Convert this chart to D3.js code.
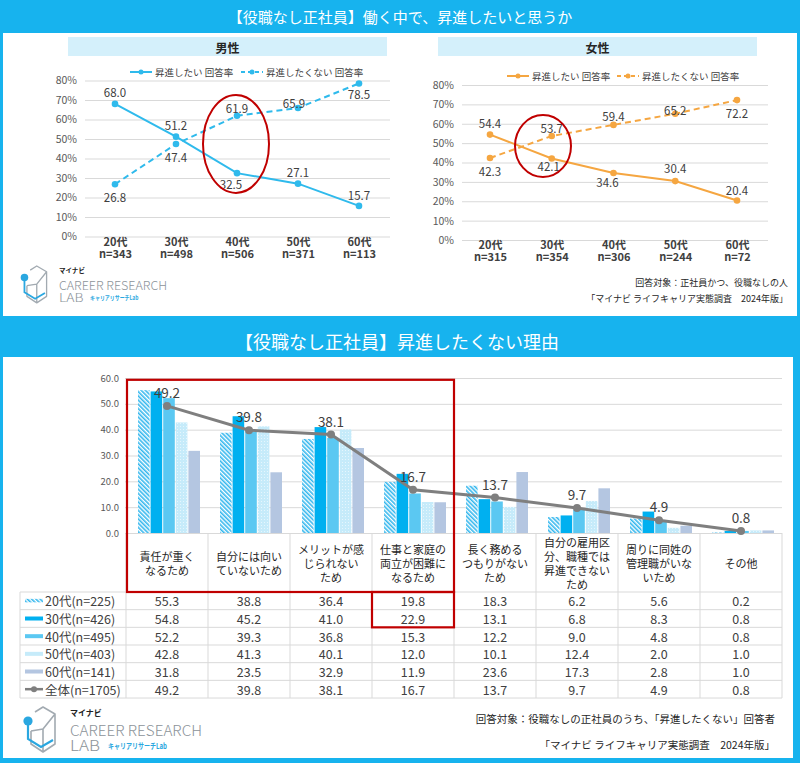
<!DOCTYPE html>
<html><head><meta charset="utf-8">
<script src="https://cdn.jsdelivr.net/npm/d3@7"></script>
<style>
body{margin:0;background:#fff}
svg{display:block}
text{font-family:"Noto Sans CJK JP","Noto Sans",sans-serif}
</style>
</head><body>
<svg id="c" width="800" height="763"></svg>
<script>
// ---------- DATA ----------
const ages = ["20代","30代","40代","50代","60代"];
const maleN = ["n=343","n=498","n=506","n=371","n=113"];
const femaleN = ["n=315","n=354","n=306","n=244","n=72"];
const seriesNames = ["昇進したい 回答率","昇進したくない 回答率"];
const maleWant = [68.0,51.2,32.5,27.1,15.7];
const maleNotWant = [26.8,47.4,61.9,65.9,78.5];
const femaleWant = [54.4,42.1,34.6,30.4,20.4];
const femaleNotWant = [42.3,53.7,59.4,65.2,72.2];
const lineTicks = [0,10,20,30,40,50,60,70,80];

const reasons = [
  ["責任が重く","なるため"],
  ["自分には向い","ていないため"],
  ["メリットが感","じられない","ため"],
  ["仕事と家庭の","両立が困難に","なるため"],
  ["長く務める","つもりがない","ため"],
  ["自分の雇用区","分、職種では","昇進できない","ため"],
  ["周りに同姓の","管理職がいな","いため"],
  ["その他"]
];
const groupLabels = ["20代(n=225)","30代(n=426)","40代(n=495)","50代(n=403)","60代(n=141)"];
const r20 = [55.3,38.8,36.4,19.8,18.3,6.2,5.6,0.2];
const r30 = [54.8,45.2,41.0,22.9,13.1,6.8,8.3,0.8];
const r40 = [52.2,39.3,36.8,15.3,12.2,9.0,4.8,0.8];
const r50 = [42.8,41.3,40.1,12.0,10.1,12.4,2.0,1.0];
const r60 = [31.8,23.5,32.9,11.9,23.6,17.3,2.8,1.0];
const totalLabel = "全体(n=1705)";
const total = [49.2,39.8,38.1,16.7,13.7,9.7,4.9,0.8];
const barTicks = [0,10,20,30,40,50,60];

const title1 = "【役職なし正社員】働く中で、昇進したいと思うか";
const title2 = "【役職なし正社員】昇進したくない理由";
const note1a = "回答対象：正社員かつ、役職なしの人";
const note1b = "「マイナビ ライフキャリア実態調査　2024年版」";
const note2a = "回答対象：役職なしの正社員のうち、「昇進したくない」回答者";
const note2b = "「マイナビ ライフキャリア実態調査　2024年版」";

// ---------- DRAW ----------
const svg = d3.select("#c");
const BLUE = "#17b3ee", RED = "#c00000", TXT = "#404040", GRID = "#d9d9d9";

const defs = svg.append("defs");
const hatch = defs.append("pattern").attr("id","hatch").attr("patternUnits","userSpaceOnUse")
  .attr("width",3).attr("height",3).attr("patternTransform","rotate(-45)");
hatch.append("rect").attr("width",3).attr("height",3).attr("fill","#ffffff");
hatch.append("rect").attr("width",1.6).attr("height",3).attr("fill","#33b7ee");
const dots = defs.append("pattern").attr("id","dots").attr("patternUnits","userSpaceOnUse")
  .attr("width",3).attr("height",3);
dots.append("rect").attr("width",3).attr("height",3).attr("fill","#c6ebfa");
dots.append("rect").attr("width",1).attr("height",1).attr("fill","#e6f6fd");

// backgrounds
svg.append("rect").attr("width",800).attr("height",763).attr("fill",BLUE);
svg.append("rect").attr("x",3).attr("y",33).attr("width",794).attr("height",283).attr("fill","#fff");
svg.append("rect").attr("x",3).attr("y",357).attr("width",790).attr("height",401).attr("fill","#fff");
svg.append("text").attr("x",400).attr("y",16).attr("text-anchor","middle").attr("dominant-baseline","central")
  .attr("fill","#fff").attr("font-size",15).text(title1);
svg.append("text").attr("x",397).attr("y",341).attr("text-anchor","middle").attr("dominant-baseline","central")
  .attr("fill","#fff").attr("font-size",18).text(title2);

function lineChart(cfg){
  const g = svg.append("g");
  const x = d3.scalePoint().domain(ages).range(cfg.xr);
  const y = d3.scaleLinear().domain([0,80]).range(cfg.yr);
  g.append("rect").attr("x",cfg.hx).attr("y",37).attr("width",319).attr("height",19).attr("fill","#d4f0fb");
  g.append("text").attr("x",cfg.hx+159.5).attr("y",47).attr("text-anchor","middle").attr("dominant-baseline","central")
    .attr("font-size",12).attr("font-weight","bold").attr("fill","#262626").text(cfg.title);
  const ya = g.append("g").attr("transform",`translate(${cfg.gx[0]},0)`)
    .call(d3.axisLeft(y).tickValues(lineTicks).tickFormat(d=>d+"%").tickSize(-(cfg.gx[1]-cfg.gx[0])).tickPadding(8));
  ya.select(".domain").remove();
  ya.selectAll("line").attr("stroke",GRID);
  ya.selectAll("text").attr("font-size",10.5).attr("fill","#595959").attr("font-family","'Noto Sans CJK JP',sans-serif");
  const xa = g.append("g").attr("transform",`translate(0,${cfg.xlY})`).call(d3.axisBottom(x).tickSize(0).tickPadding(0));
  xa.select(".domain").remove();
  xa.selectAll("text").each(function(d,i){
    const t = d3.select(this).text(null).attr("font-size",11).attr("font-weight","bold").attr("fill",TXT)
      .attr("font-family","'Noto Sans CJK JP',sans-serif").attr("dy",null).attr("y",0);
    t.append("tspan").attr("x",0).attr("y",0).text(d);
    t.append("tspan").attr("x",0).attr("y",12).text(cfg.n[i]);
  });
  const line = d3.line().x((d,i)=>x(ages[i])).y(d=>y(d));
  cfg.series.forEach((s,k)=>{
    g.append("path").datum(s).attr("d",line).attr("fill","none").attr("stroke",cfg.color)
      .attr("stroke-width",2).attr("stroke-dasharray",k===1?"6,4":null);
    g.selectAll(null).data(s).join("circle").attr("cx",(d,i)=>x(ages[i])).attr("cy",d=>y(d)).attr("r",3.3).attr("fill",cfg.color);
  });
  cfg.series.forEach((s,k)=>{
    g.selectAll(null).data(s).join("text").attr("x",(d,i)=>x(ages[i])+(cfg.dx[k][i]||0)).attr("y",(d,i)=>y(d)+cfg.dy[k][i])
      .attr("text-anchor","middle").attr("dominant-baseline","central").attr("font-size",11.5).attr("fill",TXT)
      .text(d=>d.toFixed(1));
  });
  // legend
  cfg.leg.forEach((lx,k)=>{
    g.append("line").attr("x1",lx).attr("x2",lx+22).attr("y1",cfg.legY).attr("y2",cfg.legY).attr("stroke",cfg.color)
      .attr("stroke-width",2).attr("stroke-dasharray",k===1?"4,3":null);
    g.append("circle").attr("cx",lx+11).attr("cy",cfg.legY).attr("r",2.5).attr("fill",cfg.color);
    g.append("text").attr("x",lx+25).attr("y",cfg.legY).attr("dominant-baseline","central").attr("font-size",9.5)
      .attr("fill",TXT).text(seriesNames[k]);
  });
  g.append("ellipse").attr("cx",cfg.ell[0]).attr("cy",y(cfg.ell[1])).attr("rx",cfg.ell[2]).attr("ry",cfg.ell[3])
    .attr("fill","none").attr("stroke",RED).attr("stroke-width",2);
}

lineChart({title:"男性", hx:68, xr:[115,359], yr:[236.5,80.5], gx:[85,390], xlY:246, n:maleN,
  series:[maleWant,maleNotWant], color:"#2fbaec",
  dy:[[-12,-12,11,-12,-11],[13,13,-8,-5,11]], dx:[[0,0,-6,0,0],[0,0,0,-4,0]],
  leg:[130,241], legY:72, ell:[236,47.5,33,49]});
lineChart({title:"女性", hx:438, xr:[490,737], yr:[240,85], gx:[462,768], xlY:249, n:femaleN,
  series:[femaleWant,femaleNotWant], color:"#f5a641",
  dy:[[-12,8,9,-13,-10],[13,-8,-9,-4,13]], dx:[[0,-3,-6,0,0],[0,0,0,0,0]],
  leg:[507,617], legY:76, ell:[543,48.5,28,31]});

svg.append("text").attr("x",788).attr("y",286).attr("text-anchor","end").attr("font-size",9).attr("fill","#262626").text(note1a);
svg.append("text").attr("x",788).attr("y",302).attr("text-anchor","end").attr("font-size",9).attr("fill","#262626").text(note1b);

function logo(x0,y0,s){
  const g = svg.append("g").attr("transform",`translate(${x0},${y0}) scale(${s})`);
  g.append("path").attr("d","M10,5 L18,0 L30,7 L30,37 L18,45 L6,37 L6,24 M18,22 L30,7 M18,22 L18,45 M6,24 L18,22")
    .attr("fill","none").attr("stroke","#a2aab1").attr("stroke-width",1.6).attr("stroke-linejoin","round");
  g.append("path").attr("d","M3,16 L3,32 L16,40 L28,33").attr("fill","none").attr("stroke","#2aa7e0").attr("stroke-width",2.2);
  g.append("circle").attr("cx",3).attr("cy",14).attr("r",4.6).attr("fill","#2aa7e0");
  g.append("text").attr("x",45).attr("y",9).attr("font-size",8).attr("font-weight","bold").attr("fill","#222").text("マイナビ");
  g.append("text").attr("x",45).attr("y",29).attr("font-size",15).attr("font-weight",300).attr("fill","#8c9399")
    .attr("font-family","Lato,sans-serif").attr("textLength",132).attr("lengthAdjust","spacingAndGlyphs").text("CAREER RESEARCH");
  g.append("text").attr("x",45).attr("y",44).attr("font-size",15).attr("font-weight",300).attr("fill","#8c9399")
    .attr("font-family","Lato,sans-serif").attr("textLength",30).attr("lengthAdjust","spacingAndGlyphs").text("LAB");
  g.append("text").attr("x",83).attr("y",42).attr("font-size",7.5).attr("font-weight","bold").attr("fill","#2aa7e0")
    .attr("textLength",59).attr("lengthAdjust","spacingAndGlyphs").text("キャリアリサーチLab");
}
logo(22,266,0.82);
logo(25,707,1);

// ---------- BAR CHART ----------
const bg = svg.append("g");
const catIdx = reasons.map((d,i)=>i);
const xb = d3.scaleBand().domain(catIdx).range([126,782]).paddingInner(0);
const bw = xb.bandwidth();
const xi = d3.scaleBand().domain(d3.range(5)).range([12,bw-8]).paddingInner(0.08);
const yb = d3.scaleLinear().domain([0,60]).range([533,378]);
const yAx = bg.append("g").attr("transform","translate(125,0)")
  .call(d3.axisLeft(yb).tickValues(barTicks).tickFormat(d3.format(".1f")).tickSize(-(782-125)).tickPadding(6));
yAx.select(".domain").remove();
yAx.selectAll("line").attr("stroke",GRID);
yAx.selectAll("text").attr("font-size",9.5).attr("fill","#595959").attr("font-family","'Noto Sans CJK JP',sans-serif");

const groups = [r20,r30,r40,r50,r60];
const fills = ["url(#hatch)","#00b0f0","#5bc8f2","url(#dots)","#b4c6e1"];
groups.forEach((arr,k)=>{
  bg.selectAll(null).data(arr).join("rect")
    .attr("x",(d,i)=>xb(i)+xi(k)).attr("width",xi.bandwidth())
    .attr("y",d=>yb(d)).attr("height",d=>yb(0)-yb(d)).attr("fill",fills[k]);
});
const tl = d3.line().x((d,i)=>xb(i)+bw/2).y(d=>yb(d));
bg.append("path").datum(total).attr("d",tl).attr("fill","none").attr("stroke","#7f7f7f").attr("stroke-width",3);
bg.selectAll(null).data(total).join("circle").attr("cx",(d,i)=>xb(i)+bw/2).attr("cy",d=>yb(d)).attr("r",4).attr("fill","#7f7f7f");
bg.selectAll(null).data(total).join("text").attr("x",(d,i)=>xb(i)+bw/2).attr("y",d=>yb(d)-14)
  .attr("text-anchor","middle").attr("dominant-baseline","central").attr("font-size",13.5).attr("fill",TXT).text(d=>d.toFixed(1));

// table
const rowTop = 592, rowH = 17.67;
const tbl = bg.append("g");
const lastY = rowTop + rowH*6;
xb.domain().concat([reasons.length]).forEach(i=>{
  const xx = i<reasons.length ? xb(i) : 782;
  tbl.append("line").attr("x1",xx).attr("x2",xx).attr("y1",533).attr("y2",lastY).attr("stroke",GRID);
});
tbl.append("line").attr("x1",20).attr("x2",20).attr("y1",rowTop).attr("y2",lastY).attr("stroke",GRID);
d3.range(7).forEach(r=>{
  tbl.append("line").attr("x1",20).attr("x2",782).attr("y1",rowTop+r*rowH).attr("y2",rowTop+r*rowH).attr("stroke",GRID);
});
reasons.forEach((lines,i)=>{
  const t = tbl.append("text").attr("text-anchor","middle").attr("font-size",11).attr("fill","#262626");
  const cy = 563 - (lines.length-1)*14/2;
  lines.forEach((s,j)=>t.append("tspan").attr("x",xb(i)+bw/2).attr("y",cy+j*14).attr("dominant-baseline","central").text(s));
});
const rows = groups.concat([total]);
const rowLabels = groupLabels.concat([totalLabel]);
const swatch = ["url(#hatch)","#00b0f0","#5bc8f2","#c6ebfa","#b4c6e1"];
rows.forEach((arr,r)=>{
  const cy = rowTop + rowH*r + rowH/2;
  tbl.selectAll(null).data(arr).join("text").attr("x",(d,i)=>xb(i)+bw/2).attr("y",cy)
    .attr("text-anchor","middle").attr("dominant-baseline","central").attr("font-size",12.5).attr("fill",TXT).text(d=>d.toFixed(1));
  tbl.append("text").attr("x",45).attr("y",cy).attr("dominant-baseline","central").attr("font-size",12.5).attr("fill",TXT).text(rowLabels[r]);
  if(r<5){
    tbl.append("rect").attr("x",25).attr("y",cy-2).attr("width",18).attr("height",r===0?3.5:4).attr("fill",swatch[r]);
  } else {
    tbl.append("line").attr("x1",25).attr("x2",43).attr("y1",cy).attr("y2",cy).attr("stroke","#7f7f7f").attr("stroke-width",2.5);
    tbl.append("circle").attr("cx",34).attr("cy",cy).attr("r",3).attr("fill","#7f7f7f");
  }
});

// red annotations
bg.append("rect").attr("x",xb(0)+1).attr("y",yb(59.3)).attr("width",xb(3)+bw-xb(0)-1).attr("height",rowTop-yb(59.3))
  .attr("fill","none").attr("stroke",RED).attr("stroke-width",2.2);
bg.append("rect").attr("x",xb(3)).attr("y",rowTop).attr("width",bw).attr("height",rowH*2)
  .attr("fill","none").attr("stroke",RED).attr("stroke-width",2.2);

svg.append("text").attr("x",775).attr("y",723).attr("text-anchor","end").attr("font-size",10.5).attr("fill","#262626").text(note2a);
svg.append("text").attr("x",775).attr("y",749).attr("text-anchor","end").attr("font-size",10.5).attr("fill","#262626").text(note2b);
</script>
</body></html>
